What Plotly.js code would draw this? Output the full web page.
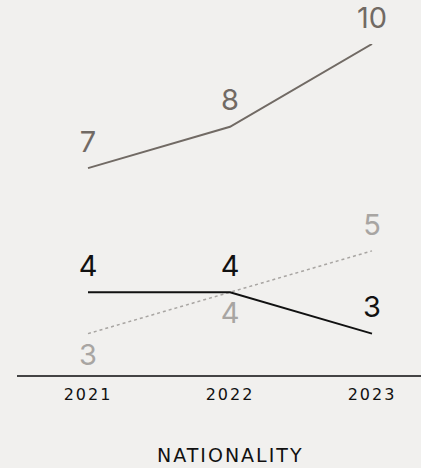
<!DOCTYPE html>
<html><head><meta charset="utf-8">
<script src="https://cdn.plot.ly/plotly-3.0.1.min.js"></script>
<style>html,body{margin:0;padding:0;background:#f1f0ee;}
.xtick text{letter-spacing:2px;}
.annotation-text{letter-spacing:2px;}
</style>
</head><body><div id="chart" style="width:421px;height:468px;"></div>
<script>
const years = ['2021', '2022', '2023'];
const seriesA = [7, 8, 10];
const seriesB = [4, 4, 3];
const seriesC = [3, 4, 5];
const posA = ['top center', 'top center', 'top center'];
const posB = ['top center', 'top center', 'top center'];
const posC = ['bottom center', 'bottom center', 'top center'];
const axisTitle = 'NATIONALITY';

const numFont = 'Inter, "Open Sans", sans-serif';
const axFont = '"DejaVu Sans", sans-serif';
function mk(color){ return {size: 13, color: color, opacity: 0}; }
const traces = [
  {x: years, y: seriesC, mode: 'lines+markers+text', text: seriesC.map(String), textposition: posC,
   marker: mk('#a8a5a2'),
   line: {color: '#a8a5a2', width: 1.5, dash: 'dot'}, textfont: {color: '#a8a5a2', size: 29, family: numFont},
   hoverinfo: 'none', cliponaxis: false},
  {x: years, y: seriesB, mode: 'lines+markers+text', text: seriesB.map(String), textposition: posB,
   marker: mk('#111111'),
   line: {color: '#111111', width: 2}, textfont: {color: '#111111', size: 29, family: numFont},
   hoverinfo: 'none', cliponaxis: false},
  {x: years, y: seriesA, mode: 'lines+markers+text', text: seriesA.map(String), textposition: posA,
   marker: mk('#716a64'),
   line: {color: '#716a64', width: 2}, textfont: {color: '#716a64', size: 29, family: numFont},
   hoverinfo: 'none', cliponaxis: false}
];
const layout = {
  width: 421, height: 468,
  paper_bgcolor: '#f1f0ee', plot_bgcolor: '#f1f0ee',
  margin: {l: 17, r: 0, t: 44, b: 93},
  showlegend: false,
  font: {family: axFont, color: '#111'},
  xaxis: {type: 'category', range: [-0.5, 2.345], showgrid: false, zeroline: false,
    showline: true, linecolor: '#444', linewidth: 1.5, ticks: 'outside', ticklen: 4, tickcolor: 'rgba(0,0,0,0)',
    tickfont: {size: 16, color: '#111', family: axFont}},
  yaxis: {range: [2, 10], visible: false, showgrid: false, zeroline: false},
  annotations: [{text: axisTitle, xref: 'paper', x: 0.5273, yref: 'paper', y: -0.2417, yanchor: 'middle',
    xanchor: 'center', showarrow: false, font: {size: 19, color: '#111', family: axFont}}]
};
Plotly.newPlot('chart', traces, layout, {displayModeBar: false, staticPlot: true});
</script></body></html>
